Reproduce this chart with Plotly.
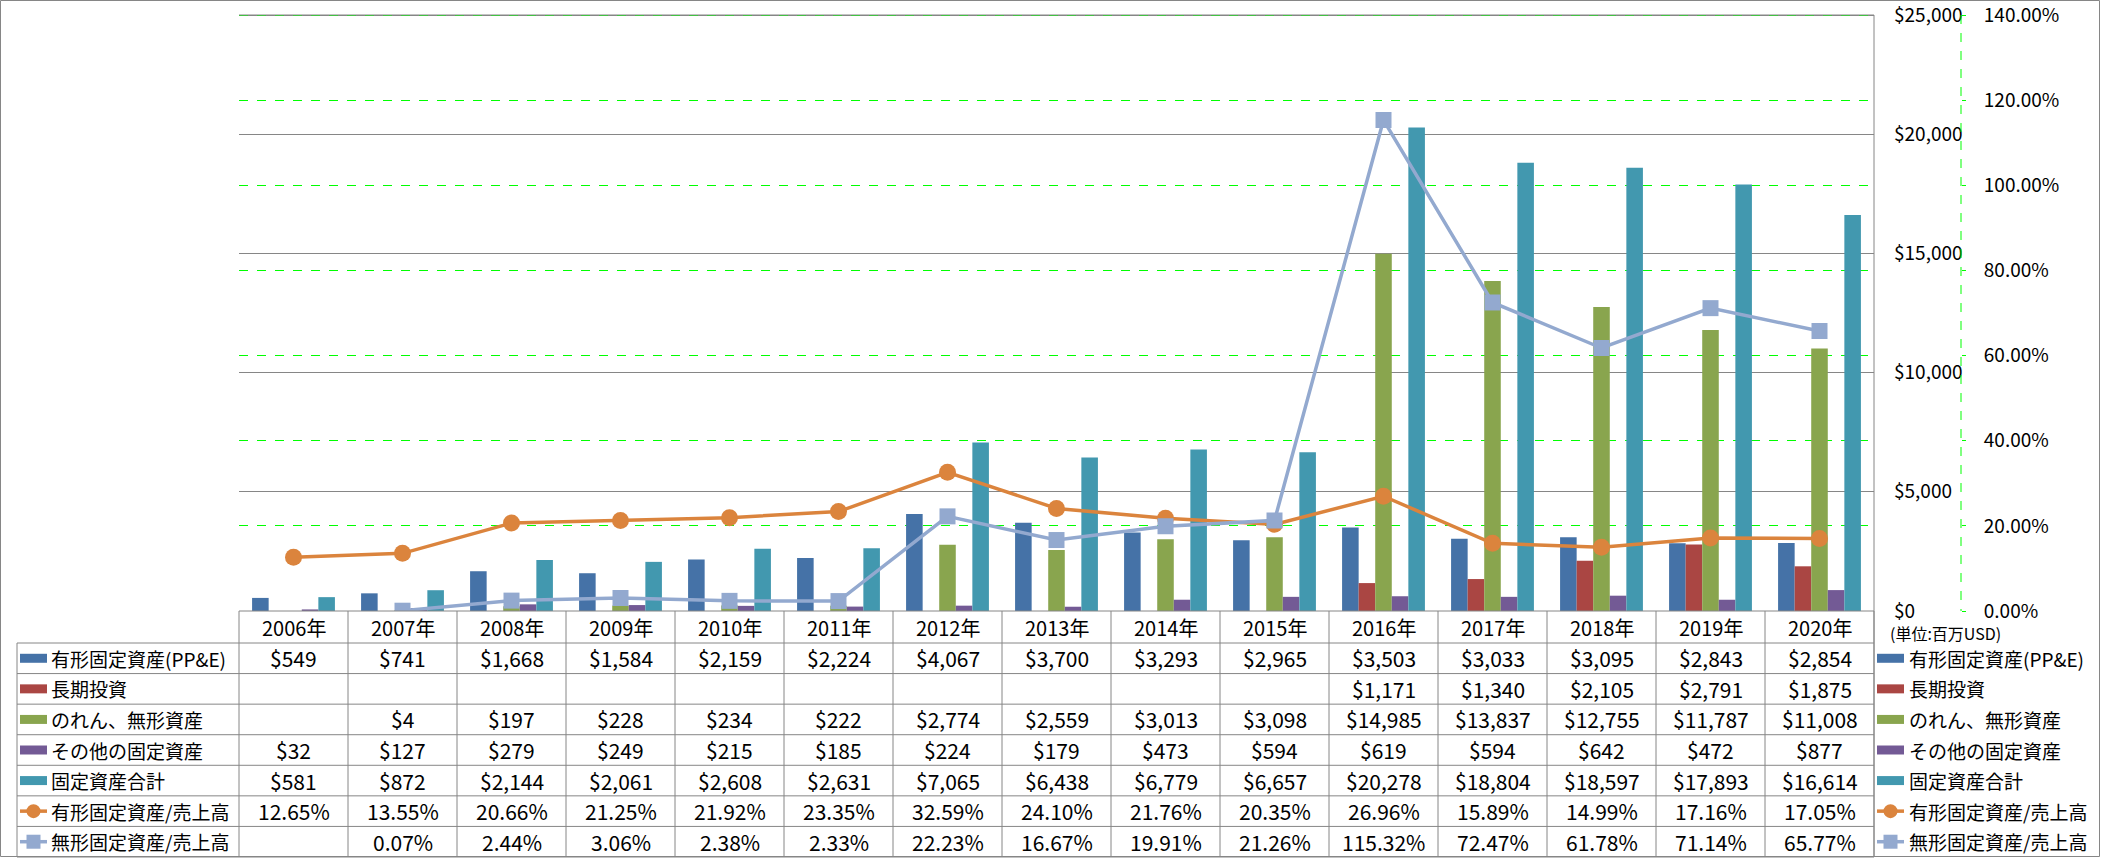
import plotly.graph_objects as go

# ---------------- data ----------------
years = ["2006年", "2007年", "2008年", "2009年", "2010年", "2011年", "2012年", "2013年",
         "2014年", "2015年", "2016年", "2017年", "2018年", "2019年", "2020年"]
ppe = [549, 741, 1668, 1584, 2159, 2224, 4067, 3700, 3293, 2965, 3503, 3033, 3095, 2843, 2854]
lt_invest = [None, None, None, None, None, None, None, None, None, None, 1171, 1340, 2105, 2791, 1875]
goodwill = [None, 4, 197, 228, 234, 222, 2774, 2559, 3013, 3098, 14985, 13837, 12755, 11787, 11008]
other_fixed = [32, 127, 279, 249, 215, 185, 224, 179, 473, 594, 619, 594, 642, 472, 877]
total_fixed = [581, 872, 2144, 2061, 2608, 2631, 7065, 6438, 6779, 6657, 20278, 18804, 18597, 17893, 16614]
ppe_ratio = [12.65, 13.55, 20.66, 21.25, 21.92, 23.35, 32.59, 24.10, 21.76, 20.35, 26.96, 15.89, 14.99, 17.16, 17.05]
intang_ratio = [None, 0.07, 2.44, 3.06, 2.38, 2.33, 22.23, 16.67, 19.91, 21.26, 115.32, 72.47, 61.78, 71.14, 65.77]

names = ["有形固定資産(PP&E)", "長期投資", "のれん、無形資産", "その他の固定資産", "固定資産合計",
         "有形固定資産/売上高", "無形固定資産/売上高"]
unit_label = "(単位:百万USD)"

y1_max, y1_step = 25000, 5000
y2_max, y2_step = 140, 20

# ---------------- style ----------------
W, H = 2101, 858
PL, PR, PT, PB = 239, 1874, 15, 611
NCAT = len(years)
CW = (PR - PL) / NCAT
row_edges = [643 + (857 - 643) * k / 7 for k in range(0, 8)]
header_top, header_bot = 611, 643
PAD = 1.006  # tiny headroom so top ticks/gridlines are drawn
PT_EXT = PB - (PB - PT) * PAD

bar_colors = ["#4572A7", "#AA4643", "#89A54E", "#735A95", "#4298AF"]
line_colors = ["#DB843D", "#93A9CF"]
grid_gray = "#868686"
green = "#00FF00"
NUM_FONT = "Liberation Sans Narrow, Noto Sans CJK JP, sans-serif"
JP_FONT = "Noto Sans CJK JP, sans-serif"


def fx(px):
    return px / W


def fy(py):
    return 1 - py / H


fig = go.Figure()

bar_series = [ppe, lt_invest, goodwill, other_fixed, total_fixed]
for name, vals, col in zip(names[:5], bar_series, bar_colors):
    fig.add_trace(go.Bar(x=years, y=vals, name=name, marker=dict(color=col, line=dict(width=0)),
                         yaxis="y", showlegend=False))

fig.add_trace(go.Scatter(x=years, y=ppe_ratio, name=names[5], yaxis="y2", mode="lines+markers",
                         line=dict(color=line_colors[0], width=3.5),
                         marker=dict(symbol="circle", size=17, color=line_colors[0]),
                         showlegend=False))
fig.add_trace(go.Scatter(x=years, y=intang_ratio, name=names[6], yaxis="y2", mode="lines+markers",
                         line=dict(color=line_colors[1], width=3.5),
                         marker=dict(symbol="square", size=16, color=line_colors[1]),
                         showlegend=False))

shapes = []
annotations = []


def hline(y, x0, x1, color=grid_gray):
    shapes.append(dict(type="line", xref="paper", yref="paper", x0=fx(x0), x1=fx(x1), y0=fy(y), y1=fy(y),
                       line=dict(color=color, width=1)))


def vline(x, y0, y1, color=grid_gray, dash="solid"):
    shapes.append(dict(type="line", xref="paper", yref="paper", x0=fx(x), x1=fx(x), y0=fy(y0), y1=fy(y1),
                       line=dict(color=color, width=1, dash=dash)))


# outer border
shapes.append(dict(type="rect", xref="paper", yref="paper", x0=fx(0.5), x1=fx(W - 1.5), y0=fy(0.5), y1=fy(H - 1.5),
                   line=dict(color=grid_gray, width=1), fillcolor="rgba(0,0,0,0)"))
# top edge of plot area (solid gray above the dashed green one)
hline(PT, PL, PR)
# secondary axis dashed line
vline(1961, PT, PB, color=green, dash="dash")
# table grid
hline(header_top, PL, PR)
for e in row_edges:
    hline(e, 17, PR)
for k in range(NCAT + 1):
    vline(PL + CW * k, header_top, row_edges[-1])
vline(PR, PT, row_edges[-1])
vline(17, row_edges[0], row_edges[-1])

# header
for i, yr in enumerate(years):
    annotations.append(dict(x=fx(PL + CW * (i + 0.5)), y=fy((header_top + header_bot) / 2), xref="paper",
                            yref="paper", text=yr, showarrow=False, xanchor="center", yanchor="middle",
                            font=dict(family=NUM_FONT, size=20, color="#000")))

annotations.append(dict(x=fx(1888), y=fy(633), xref="paper", yref="paper", text=unit_label, showarrow=False,
                        xanchor="left", yanchor="middle", font=dict(family=JP_FONT, size=16, color="#000")))


def money(v):
    return "" if v is None else "${:,}".format(v)


def pct(v):
    return "" if v is None else "{:.2f}%".format(v)


rows = [(ppe, money), (lt_invest, money), (goodwill, money), (other_fixed, money), (total_fixed, money),
        (ppe_ratio, pct), (intang_ratio, pct)]

for r, (vals, fmt) in enumerate(rows):
    yc = (row_edges[r] + row_edges[r + 1]) / 2
    for i, v in enumerate(vals):
        t = fmt(v)
        if t:
            annotations.append(dict(x=fx(PL + CW * (i + 0.5)), y=fy(yc), xref="paper", yref="paper", text=t,
                                    showarrow=False, xanchor="center", yanchor="middle",
                                    font=dict(family=NUM_FONT, size=21, color="#000")))
    # legend keys left and right
    for kx, tx in ((20, 49), (1877, 1907)):
        if r < 5:
            shapes.append(dict(type="rect", xref="paper", yref="paper", x0=fx(kx), x1=fx(kx + 27),
                               y0=fy(yc - 4.5), y1=fy(yc + 4.5), fillcolor=bar_colors[r], line=dict(width=0)))
        else:
            col = line_colors[r - 5]
            shapes.append(dict(type="line", xref="paper", yref="paper", x0=fx(kx), x1=fx(kx + 27),
                               y0=fy(yc), y1=fy(yc), line=dict(color=col, width=3.5)))
            cx = kx + 13.5
            shapes.append(dict(type="circle" if r == 5 else "rect", xref="paper", yref="paper",
                               x0=fx(cx - 7), x1=fx(cx + 7), y0=fy(yc - 7), y1=fy(yc + 7),
                               fillcolor=col, line=dict(width=0)))
        annotations.append(dict(x=fx(tx), y=fy(yc), xref="paper", yref="paper", text=names[r], showarrow=False,
                                xanchor="left", yanchor="middle",
                                font=dict(family=JP_FONT, size=19, color="#000")))

fig.update_layout(
    width=W, height=H, margin=dict(l=0, r=0, t=0, b=0),
    paper_bgcolor="white", plot_bgcolor="white", template="none",
    barmode="group", bargap=0.24, bargroupgap=0,
    showlegend=False,
    xaxis=dict(domain=[fx(PL), fx(PR)], type="category", range=[-0.5, NCAT - 0.5], showticklabels=False,
               ticks="", showgrid=False, showline=False, zeroline=False, automargin=False, fixedrange=True),
    yaxis=dict(domain=[fy(PB), fy(PT_EXT)], range=[0, y1_max * PAD], tick0=0, dtick=y1_step, side="right",
               tickprefix="$", tickformat=",d", showgrid=True, gridcolor=grid_gray, gridwidth=1, zeroline=False,
               showline=False, ticks="", ticklabelstandoff=19, automargin=False, ticklabeloverflow="allow",
               tickfont=dict(family=NUM_FONT, size=19, color="#000")),
    yaxis2=dict(overlaying="y", side="right", anchor="free", position=fx(1961), range=[0, y2_max * PAD],
                tick0=0, dtick=y2_step, tickformat=".2f", ticksuffix="%", showgrid=True, gridcolor=green,
                griddash="dash", gridwidth=1, zeroline=False, showline=False, ticks="outside", ticklen=4,
                tickcolor=green, tickwidth=1, ticklabelstandoff=14, automargin=False, ticklabeloverflow="allow",
                tickfont=dict(family=NUM_FONT, size=19, color="#000")),
    shapes=shapes, annotations=annotations,
)

fig.write_html("out.html", post_script="document.body.style.margin='0';",
               config={"displayModeBar": False})
